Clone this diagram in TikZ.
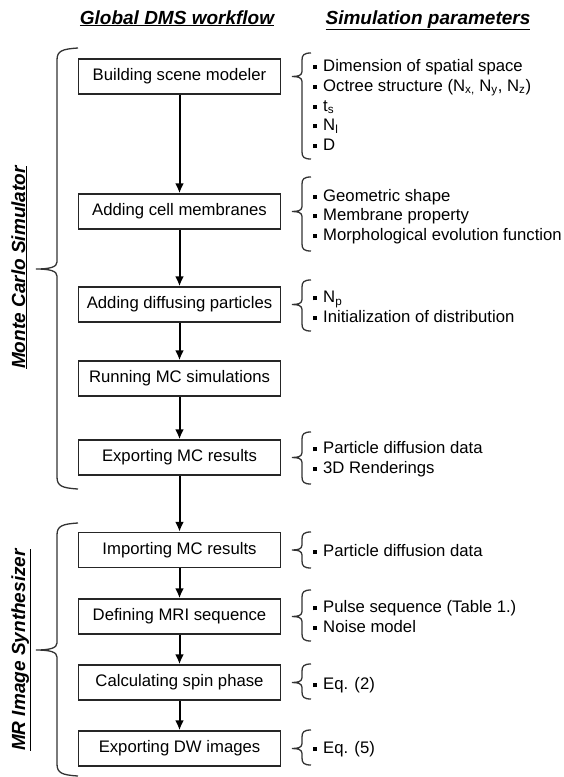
\documentclass[tikz,border=0pt]{standalone}
\usepackage{fontspec}
\setmainfont{Liberation Sans}
\usetikzlibrary{arrows.meta}

\tikzset{
    stepbox/.style={draw=black!85, line width=1.5pt, minimum width=202pt,
        minimum height=35pt, inner sep=0pt, font=\fontsize{16.7}{20}\selectfont},
    flow/.style={-{Latex[length=10pt,width=9pt]}, line width=2pt},
    plist/.style={anchor=base west, align=left, inner sep=0pt,
        font=\fontsize{16.7}{19.7}\selectfont},
    brace/.style={line width=1.3pt, black!80},
    heading/.style={anchor=base, inner sep=0pt,
        font=\fontsize{19}{22}\bfseries\itshape\selectfont}
}
% small square bullet in front of each parameter
\newcommand{\itm}{\raisebox{2.5pt}{\rule{4pt}{4pt}}\hspace{6pt}}

\begin{document}
\begin{tikzpicture}[x=1pt,y=-1pt]

    \useasboundingbox (0,0) rectangle (563,777);

    % Column headings
    \node[heading] (hflow) at (177,24) {\underline{Global DMS workflow}};
    \node[heading] (hpar) at (428,24) {\underline{Simulation parameters}};

    % Workflow steps, one box per step
    \node[stepbox] (build)  at (179.5,76.5) {Building scene modeler};
    \node[stepbox] (membr)  at (179.5,211.5) {Adding cell membranes};
    \node[stepbox] (partic) at (179.5,304.5) {Adding diffusing particles};
    \node[stepbox] (runmc)  at (179.5,378.5) {Running MC simulations};
    \node[stepbox] (expmc)  at (179.5,457.5) {Exporting MC results};
    \node[stepbox] (impmc)  at (179.5,550) {Importing MC results};
    \node[stepbox] (mriseq) at (179.5,616.5) {Defining MRI sequence};
    \node[stepbox] (spin)   at (179.5,682.5) {Calculating spin phase};
    \node[stepbox] (expdw)  at (179.5,748.5) {Exporting DW images};

    % Arrows from step to step
    \draw[flow] (build) -- (membr);
    \draw[flow] (membr) -- (partic);
    \draw[flow] (partic) -- (runmc);
    \draw[flow] (runmc) -- (expmc);
    \draw[flow] (expmc) -- (impmc);
    \draw[flow] (impmc) -- (mriseq);
    \draw[flow] (mriseq) -- (spin);
    \draw[flow] (spin) -- (expdw);

    % Left braces grouping the two stages
    \draw[brace] (78,48) .. controls (62,49) and (57,51) .. (57,60) -- (57,262)
        .. controls (57,267) and (50,269) .. (36,269)
        .. controls (50,269) and (57,271) .. (57,276) -- (57,477)
        .. controls (57,486) and (62,488) .. (78,489);
    \draw[brace] (78,523) .. controls (62,524) and (57,526) .. (57,535) -- (57,643)
        .. controls (57,648) and (50,650) .. (36,650)
        .. controls (50,650) and (57,652) .. (57,657) -- (57,764)
        .. controls (57,773) and (62,775) .. (78,776);

    % Stage labels, turned upright
    \node[heading, rotate=90] (mcsim) at (25,267.5) {\underline{Monte Carlo Simulator}};
    \node[heading, rotate=90] (mrsyn) at (25,650) {\underline{MR Image Synthesizer}};

    % Right braces: top / tip / bottom
    \foreach \t/\m/\b in {53/76.5/159, 177/211.5/251, 280/304.5/331, 432/457.5/484,
                          532/550/568, 590/616.5/641, 664/682.5/699, 730/748.5/765}
        \draw[brace] (311,\t) .. controls (304,\t) and (302,\t+2) .. (302,\t+7)
            -- (302,\m-5) .. controls (302,\m-1) and (298,\m) .. (292,\m)
            .. controls (298,\m) and (302,\m+1) .. (302,\m+5)
            -- (302,\b-7) .. controls (302,\b-2) and (304,\b) .. (311,\b);

    % Parameter lists (placed by the baseline of their last line)
    \node[plist] (par1) at (313,150.5) {\itm Dimension of spatial space\\
        \itm Octree structure (N\textsubscript{x,} N\textsubscript{y}, N\textsubscript{z})\\
        \itm t\textsubscript{s}\\ \itm N\textsubscript{l}\\ \itm D};
    \node[plist] (par2) at (313,240.5) {\itm Geometric shape\\ \itm Membrane property\\
        \itm Morphological evolution function};
    \node[plist] (par3) at (313,322.5) {\itm N\textsubscript{p}\\
        \itm Initialization of distribution};
    \node[plist] (par5) at (313,473.5) {\itm Particle diffusion data\\ \itm 3D Renderings};
    \node[plist] (par6) at (313,556.5) {\itm Particle diffusion data};
    \node[plist] (par7) at (313,632.5) {\itm Pulse sequence (Table 1.)\\ \itm Noise model};
    \node[plist] (par8) at (313,689.5) {\itm Eq. (2)};
    \node[plist] (par9) at (313,753.5) {\itm Eq. (5)};

\end{tikzpicture}
\end{document}
